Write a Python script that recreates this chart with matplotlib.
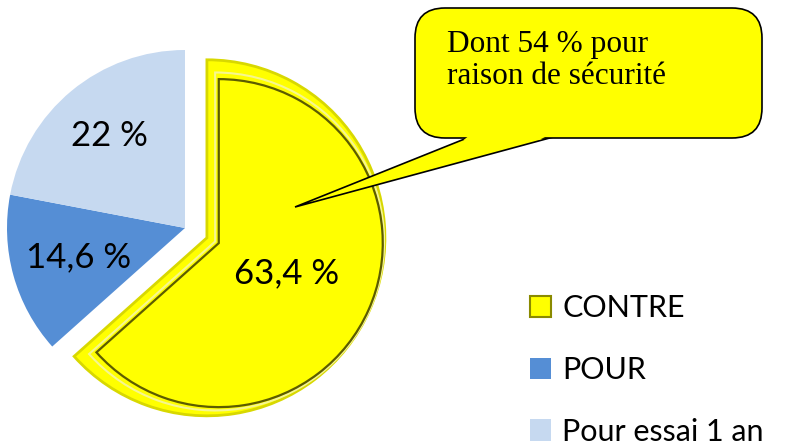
import numpy as np
import matplotlib.pyplot as plt
from matplotlib.patches import Wedge, Patch, FancyBboxPatch, Polygon

categories = ["CONTRE", "POUR", "Pour essai 1 an"]
values = [63.4, 14.6, 22]
colors = ["#FFFF00", "#558ED5", "#C6D9F0"]
label_dist = [0.49, 0.62, 0.67]
note = "Dont 54 % pour\nraison de sécurité"

def fmt(v):
    s = ("%.1f" % v).replace(".", ",")
    if s.endswith(",0"):
        s = s[:-2]
    return s + " %"

fig = plt.figure(figsize=(7.88, 4.45), dpi=100)
ax = fig.add_axes([0, 0, 1, 1])

# explode is in data units here (radius = 178 px)
wedges, _ = ax.pie(values, colors=colors, startangle=90, counterclock=False,
                   explode=[24, 0, 0], radius=178, center=(185, 217),
                   frame=True, wedgeprops=dict(linewidth=0))
ax.set_xlim(0, 788)
ax.set_ylim(0, 445)
ax.set_aspect("equal")
ax.axis("off")

# bevel look on the exploded slice
w = wedges[0]
w.set_edgecolor("#D8D800")
w.set_linewidth(2)
mid = np.deg2rad((w.theta1 + w.theta2) / 2)
cx, cy = w.center
ux, uy = np.cos(mid), np.sin(mid)
ax.add_patch(Wedge((cx + 9 * ux, cy + 9 * uy), w.r - 9, w.theta1, w.theta2,
                   facecolor="none", edgecolor="#F6F690", linewidth=1.5))
ax.add_patch(Wedge((cx + 13 * ux, cy + 13 * uy), w.r - 14, w.theta1, w.theta2,
                   facecolor="none", edgecolor="#5C5C00", linewidth=1.6))

# percentage labels
for wd, v, d in zip(wedges, values, label_dist):
    a = np.deg2rad((wd.theta1 + wd.theta2) / 2)
    x = wd.center[0] + d * wd.r * np.cos(a)
    y = wd.center[1] + d * wd.r * np.sin(a)
    ax.text(x, y, fmt(v), ha="center", va="center", fontsize=25,
            family="Lato", color="black")

# callout
tail = Polygon([(472, 445 - 136), (295, 445 - 207), (557, 445 - 136)],
               closed=True, facecolor="#FFFF00", edgecolor="black", linewidth=1.2)
ax.add_patch(tail)
box = FancyBboxPatch((415, 445 - 138), 347, 130,
                     boxstyle="round,pad=0,rounding_size=30",
                     facecolor="#FFFF00", edgecolor="black", linewidth=1.2)
ax.add_patch(box)
ax.add_patch(Polygon([(474, 445 - 132), (555, 445 - 132), (539, 445 - 140), (463.5, 445 - 140)],
                     closed=True, facecolor="#FFFF00", edgecolor="none"))
ax.text(447, 445 - 30, note, ha="left", va="top", fontsize=22.5,
        family="Liberation Serif", linespacing=1.15)

handles = [Patch(facecolor=c, edgecolor="#8A8A00" if i == 0 else c, linewidth=1.5 if i == 0 else 0)
           for i, c in enumerate(colors)]
ax.legend(handles, categories, loc="upper left", bbox_to_anchor=(530 / 788, 1 - 294 / 445),
          frameon=False, prop=dict(family="Lato", size=22), handlelength=0.7,
          handleheight=0.7, handletextpad=0.35, labelspacing=1.11, borderpad=0,
          borderaxespad=0)

fig.savefig("out.png", dpi=100)
